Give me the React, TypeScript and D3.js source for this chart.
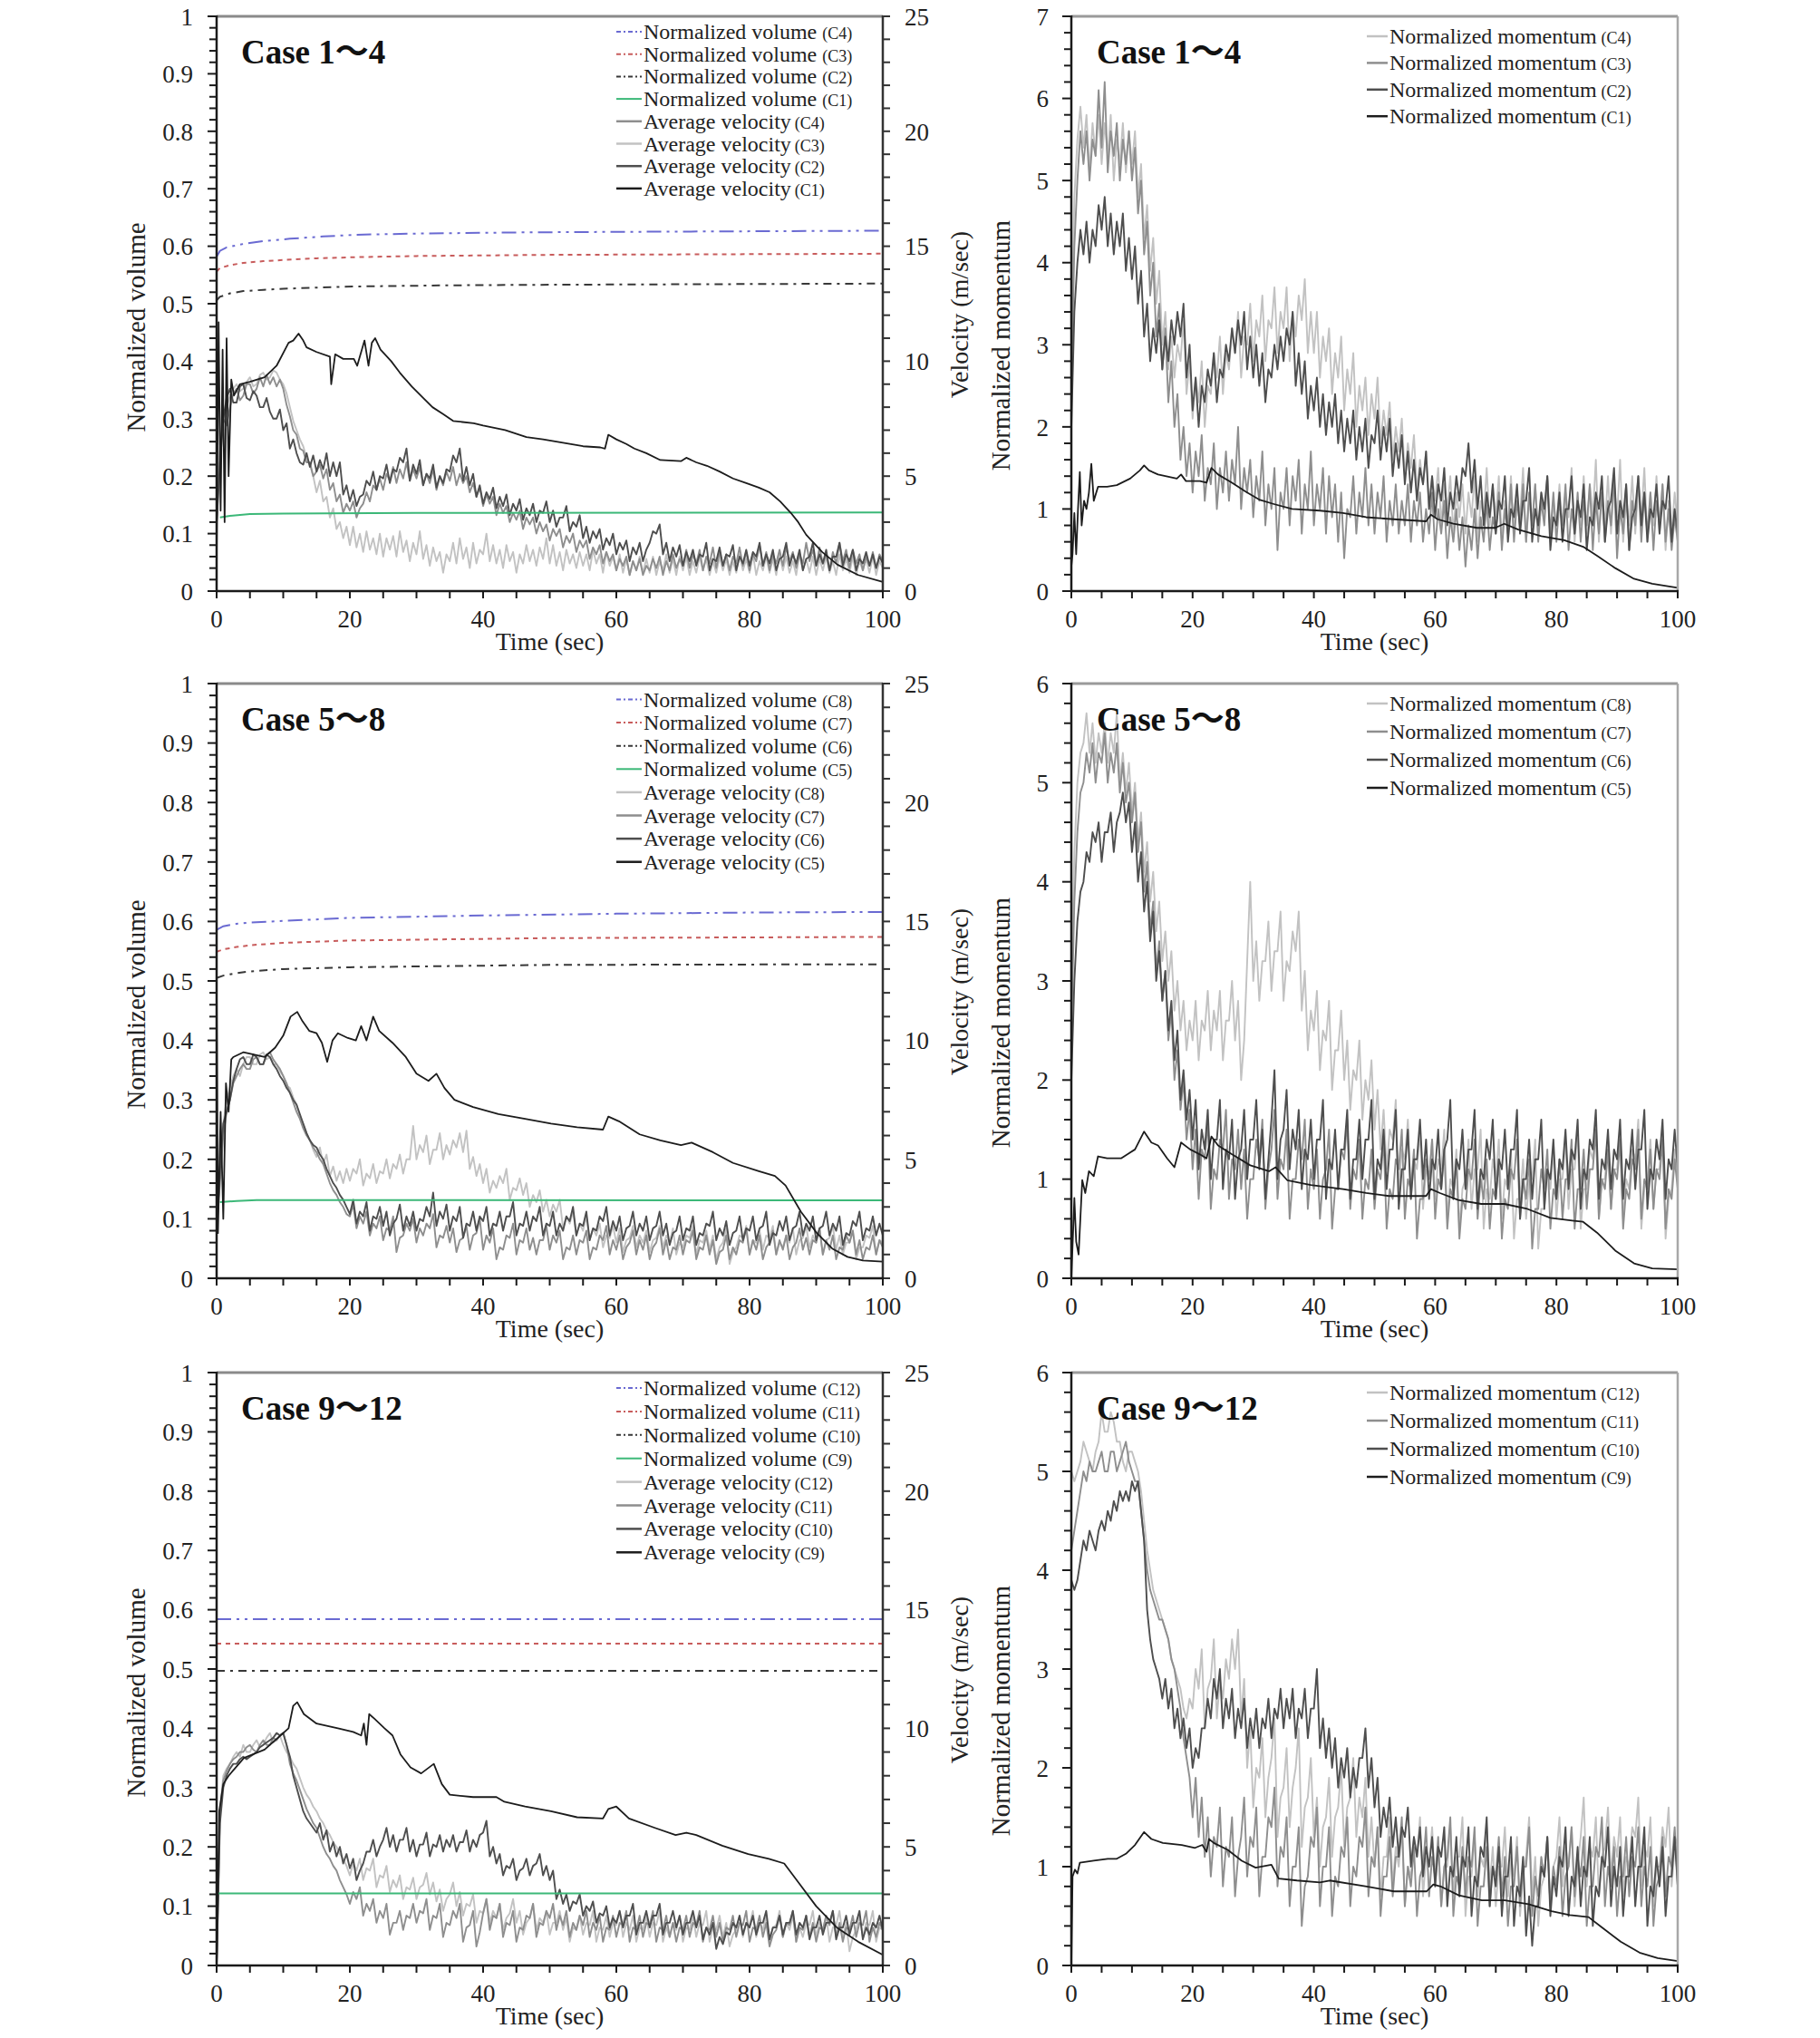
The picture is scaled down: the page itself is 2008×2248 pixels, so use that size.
import React from "react";
import * as d3 from "d3";

type Pt = [number, number];

// ---------- shared axes data ----------
const TIME = d3.range(201).map((i) => i / 2); // 0.5-s sampling grid of the noisy series
const X_TICKS = d3.range(0, 101, 5);
const X_LABELS = [0, 20, 40, 60, 80, 100];
const VOL_LABELS = ["0", "0.1", "0.2", "0.3", "0.4", "0.5", "0.6", "0.7", "0.8", "0.9", "1"];
const VEL_LABELS = [0, 5, 10, 15, 20, 25];

// ---------- Panel 1 : Case 1~4 (volume + velocity m/s) ----------
const P1_CASES = ["C4", "C3", "C2", "C1"];
const P1_VOL_C4: Pt[] = [[0,0.582],[0.5,0.592],[1.5,0.598],[4,0.604],[7,0.609],[11,0.613],[16,0.617],[21,0.62],[30,0.622],[45,0.624],[60,0.625],[80,0.626],[100,0.627]];
const P1_VOL_C3: Pt[] = [[0,0.556],[0.5,0.562],[2,0.567],[4,0.571],[7,0.574],[10,0.576],[15,0.579],[21,0.581],[30,0.583],[50,0.585],[75,0.586],[100,0.587]];
const P1_VOL_C2: Pt[] = [[0,0.506],[0.5,0.512],[2,0.518],[4,0.522],[7,0.524],[10,0.526],[15,0.528],[21,0.53],[35,0.532],[50,0.533],[75,0.534],[100,0.535]];
const P1_VOL_C1: Pt[] = [[0.5,0.128],[2,0.131],[5,0.134],[10,0.135],[30,0.136],[100,0.137]];
const P1_VEL_C4 = [
  3.0,6.0,7.5,7.2,8.0,8.6,8.8,8.3,8.5,9.0,
  9.0,8.6,8.8,9.3,8.9,9.4,9.0,9.3,8.9,9.2,
  8.8,8.1,7.6,7.0,6.8,6.2,6.1,5.6,5.6,5.0,
  5.2,5.5,4.9,5.3,4.4,4.7,3.9,4.2,3.4,3.8,
  3.5,3.9,3.2,3.6,3.8,4.3,3.9,4.6,4.4,4.9,
  4.4,5.1,4.8,5.4,4.7,5.3,4.9,5.6,4.8,5.3,
  4.9,5.4,4.6,5.1,4.7,5.3,4.4,5.0,4.6,5.2,
  4.8,5.4,4.6,5.1,4.7,5.0,4.3,4.7,4.1,4.5,
  3.7,4.2,3.8,4.1,3.3,3.8,3.4,3.7,3.0,3.4,
  3.1,3.5,2.7,3.2,2.9,3.2,2.5,3.0,2.6,2.9,
  2.2,2.7,2.4,2.7,1.9,2.4,2.1,2.5,1.7,2.2,
  1.9,2.2,1.4,1.9,1.6,2.0,1.2,1.7,1.3,1.6,
  0.9,1.4,1.1,1.5,0.7,1.3,0.9,1.4,0.7,1.1,
  0.9,1.4,1.0,1.5,0.7,1.3,0.9,1.6,1.0,1.4,
  1.1,1.8,1.0,1.6,1.2,1.8,0.9,1.5,1.2,1.9,
  1.0,1.7,1.1,1.6,0.9,1.5,1.2,1.9,1.1,1.7,
  0.9,1.6,1.3,2.0,1.1,1.7,0.9,1.6,1.2,1.8,
  1.1,1.9,1.3,1.7,1.0,1.6,1.2,2.1,1.3,1.8,
  1.1,1.9,1.2,1.6,0.9,1.7,1.2,2.1,1.3,1.8,
  1.0,1.8,1.2,1.6,0.9,1.5,1.1,1.7,1.0,1.6,
  1.3];
const P1_VEL_C3 = [
  3.0,6.2,7.5,8.0,8.5,8.8,9.0,8.7,8.8,9.1,
  9.3,8.9,9.0,9.4,9.5,9.2,9.3,9.6,9.5,9.2,
  9.0,8.6,8.0,7.4,7.0,6.6,6.3,5.8,5.5,5.0,
  4.3,4.8,3.9,4.1,3.2,3.6,2.7,3.0,2.3,2.8,
  2.0,2.8,1.9,2.5,1.7,2.6,1.8,2.3,1.6,2.5,
  1.5,2.3,1.8,2.4,1.5,2.6,1.7,2.2,1.3,2.1,
  1.6,2.6,1.4,2.0,1.1,1.9,1.3,1.7,0.8,1.6,
  1.3,2.1,1.2,2.3,1.4,1.9,1.0,2.1,1.2,1.8,
  1.6,2.5,1.3,2.0,1.2,1.8,1.0,2.0,1.3,1.7,
  0.8,1.6,1.2,2.0,1.3,1.8,1.1,1.9,1.4,2.3,
  1.2,2.0,1.1,1.7,0.9,1.8,1.2,1.6,1.0,1.7,
  1.1,1.6,0.9,1.8,1.2,1.6,0.8,1.7,1.1,1.5,
  0.9,1.6,0.8,1.4,0.7,1.3,0.9,1.5,0.8,1.4,
  0.8,1.5,0.7,1.3,0.9,1.6,0.8,1.4,0.7,1.5,
  0.9,1.5,0.7,1.3,0.8,1.5,0.9,1.4,0.7,1.3,
  0.8,1.5,0.9,1.4,0.7,1.3,0.8,1.6,0.9,1.4,
  0.8,1.6,0.7,1.3,0.9,1.5,0.8,1.4,0.7,1.6,
  0.9,1.5,0.8,1.3,0.7,1.6,0.9,1.4,0.8,1.5,
  0.7,1.4,0.9,1.5,0.8,1.3,0.7,1.6,0.9,1.4,
  0.8,1.5,0.7,1.3,0.9,1.4,0.8,1.5,0.7,1.3,
  1.0];
const P1_VEL_C2 = [
  3.0,5.5,7.5,8.4,8.8,8.2,8.2,8.9,9.0,8.4,
  8.3,8.7,8.5,8.0,8.0,8.4,7.8,7.5,7.5,7.9,
  7.0,7.3,6.2,6.6,6.0,5.6,5.5,6.0,5.4,5.9,
  5.2,5.7,5.3,6.0,5.0,5.6,5.0,5.6,4.2,4.6,
  3.9,4.4,3.7,4.1,4.2,4.8,4.6,5.2,4.4,5.0,
  4.9,5.5,4.7,5.3,5.2,5.8,5.6,6.2,4.8,5.5,
  5.1,5.7,4.6,5.1,4.9,5.5,4.5,5.0,4.7,5.3,
  5.2,5.9,5.6,6.2,4.8,5.4,4.6,5.1,4.1,4.6,
  3.8,4.3,4.0,4.5,3.6,4.1,3.7,4.2,3.3,3.8,
  3.5,4.0,3.1,3.6,3.3,3.8,3.0,3.5,3.4,3.9,
  3.0,3.5,2.8,3.2,3.2,3.7,2.6,3.0,2.8,3.3,
  2.3,2.8,2.1,2.6,2.3,2.7,1.8,2.3,2.0,2.5,
  1.6,2.1,1.8,2.2,1.3,1.9,1.6,2.1,1.3,1.8,
  2.1,2.6,2.5,2.9,1.6,2.1,1.3,1.9,1.5,2.0,
  1.1,1.7,1.3,1.8,1.1,1.6,1.5,2.1,0.9,1.4,
  1.3,1.9,1.1,1.6,1.5,2.0,0.9,1.5,1.2,1.8,
  1.1,1.7,1.5,2.1,1.1,1.6,1.2,1.8,0.9,1.4,
  1.5,2.1,1.1,1.6,1.2,1.8,0.9,1.4,1.5,2.1,
  1.1,1.6,1.2,1.8,0.9,1.5,1.5,2.1,1.1,1.6,
  1.3,1.8,0.9,1.4,1.2,1.7,1.1,1.6,1.0,1.5,
  1.2];
const P1_VEL_C1: Pt[] = [[0,1.5],[0.3,11.7],[0.6,3.5],[0.9,10.5],[1.2,3],[1.5,11],[1.8,5],[2.2,9.2],[2.6,8.5],[3.5,9],[5,9.1],[7.2,9.3],[9,9.8],[10.8,10.8],[11.5,10.9],[12.3,11.2],[13,10.9],[13.5,10.6],[15,10.4],[17,10.2],[17.2,9.0],[17.8,10.3],[19,10.1],[20.6,10.1],[21.1,9.8],[22.2,10.9],[22.8,9.8],[23.3,10.8],[23.8,11.0],[24.6,10.5],[26.2,10.0],[27.5,9.5],[29.3,8.9],[31,8.4],[32.4,8.0],[34,7.7],[35.5,7.4],[38.6,7.3],[40,7.2],[43.3,7.0],[46.5,6.7],[49,6.6],[52,6.45],[55,6.3],[57.6,6.25],[58.3,6.2],[58.8,6.8],[60,6.6],[61.5,6.4],[62.7,6.2],[64.5,6.0],[66.6,5.7],[69.7,5.65],[70.5,5.8],[72,5.6],[73.6,5.45],[75.5,5.2],[77.5,4.9],[79.5,4.7],[81.4,4.5],[83,4.3],[84.6,3.9],[86.2,3.4],[87.3,3.0],[88.5,2.45],[90.9,1.7],[93.2,1.15],[96.3,0.7],[100,0.4]];

// ---------- Panel 2 : Case 1~4 (momentum) ----------
const P2_MOM_C4 = [
  3.0,4.8,5.5,5.9,5.4,5.8,5.1,5.7,5.3,5.8,
  5.2,5.7,5.3,5.8,5.0,5.5,5.2,5.7,5.1,5.6,
  5.2,5.6,4.8,5.2,4.3,4.7,3.9,4.3,3.5,3.9,
  3.0,3.4,2.7,3.1,2.6,3.0,2.8,3.3,2.4,2.8,
  2.1,2.6,2.3,2.8,2.0,2.5,2.4,2.9,2.6,3.1,
  2.4,2.9,2.7,3.2,2.9,3.4,2.6,3.1,3.0,3.5,
  2.8,3.3,3.1,3.6,2.8,3.3,3.2,3.7,2.9,3.4,
  3.2,3.7,2.8,3.4,3.1,3.6,3.3,3.8,2.9,3.4,
  2.9,3.4,2.6,3.1,2.8,3.2,2.4,2.9,2.6,3.1,
  2.2,2.7,2.4,2.9,2.0,2.5,2.2,2.6,1.9,2.4,
  2.1,2.6,1.8,2.2,1.9,2.3,1.6,2.0,1.7,2.1,
  1.4,1.8,1.5,1.9,1.2,1.6,1.3,1.7,1.0,1.4,
  1.1,1.5,0.8,1.3,1.0,1.4,0.7,1.2,0.9,1.3,
  0.7,1.2,0.9,1.4,0.6,1.1,0.9,1.5,0.8,1.3,
  0.9,1.4,0.6,1.1,0.8,1.4,0.7,1.2,0.9,1.5,
  0.6,1.1,0.8,1.3,0.7,1.2,0.9,1.4,0.6,1.1,
  0.8,1.3,0.7,1.2,0.9,1.5,0.6,1.1,0.8,1.4,
  0.7,1.3,0.9,1.6,0.6,1.2,0.8,1.4,0.7,1.3,
  0.9,1.6,0.6,1.1,0.8,1.4,0.7,1.3,0.9,1.5,
  0.6,1.2,0.8,1.4,0.7,1.3,0.5,1.1,0.7,1.2,
  0.8];
const P2_MOM_C3 = [
  2.5,4.2,5.0,5.6,5.2,5.6,5.0,5.5,5.3,6.1,
  5.4,6.2,5.1,5.6,5.3,5.7,5.0,5.5,5.2,5.6,
  5.0,5.4,4.6,5.0,4.1,4.5,3.6,4.0,3.1,3.5,
  2.7,3.2,2.3,2.8,2.0,2.4,1.6,2.0,1.4,1.8,
  1.2,1.7,1.4,1.9,1.1,1.5,1.3,1.8,1.0,1.5,
  1.2,1.7,1.1,1.6,1.3,2.0,1.0,1.5,1.2,1.6,
  0.9,1.4,1.1,1.7,0.8,1.3,1.0,1.5,0.5,1.2,
  1.0,1.5,0.8,1.4,1.1,1.6,0.7,1.3,1.0,1.7,
  0.8,1.3,1.0,1.5,0.7,1.4,0.9,1.3,0.6,1.2,
  0.4,1.0,0.9,1.4,0.7,1.2,0.9,1.5,0.8,1.3,
  0.7,1.2,0.9,1.4,0.6,1.1,0.8,1.3,0.7,1.1,
  0.8,1.3,0.6,1.1,0.8,1.2,0.6,1.0,0.7,1.2,
  0.5,1.0,0.7,1.1,0.4,0.9,0.6,1.0,0.5,0.9,
  0.3,0.8,0.5,1.0,0.4,0.9,0.6,1.1,0.5,0.9,
  0.7,1.2,0.5,1.0,0.7,1.3,0.6,1.1,0.8,1.3,
  0.6,1.2,0.8,1.3,0.6,1.1,0.8,1.4,0.7,1.2,
  0.6,1.1,0.8,1.3,0.5,1.0,0.7,1.2,0.6,1.1,
  0.8,1.3,0.5,1.1,0.7,1.2,0.6,1.1,0.8,1.4,
  0.4,1.0,0.7,1.3,0.5,1.1,0.8,1.4,0.6,1.2,
  0.7,1.2,0.5,1.1,0.8,1.3,0.6,1.0,0.5,0.9,
  0.6];
const P2_MOM_C2 = [
  2.0,3.4,4.0,4.4,4.1,4.5,4.0,4.4,4.2,4.7,
  4.4,4.8,4.2,4.6,4.1,4.5,4.2,4.6,3.9,4.3,
  3.8,4.2,3.5,3.9,3.1,3.5,2.8,3.2,2.9,3.3,
  2.7,3.1,2.8,3.3,3.0,3.4,3.1,3.5,2.6,3.0,
  2.2,2.6,2.0,2.5,2.3,2.7,2.5,2.9,2.3,2.7,
  2.6,3.0,2.8,3.2,2.9,3.3,3.0,3.4,2.7,3.1,
  2.6,3.0,2.5,2.9,2.3,2.7,2.6,3.0,2.7,3.1,
  2.8,3.2,3.0,3.4,2.5,2.9,2.4,2.8,2.1,2.5,
  2.2,2.6,2.0,2.4,1.9,2.3,2.0,2.4,1.8,2.2,
  1.7,2.1,1.8,2.2,1.6,2.0,1.7,2.1,1.5,1.9,
  1.8,2.2,1.6,2.0,1.7,2.1,1.4,1.8,1.5,1.9,
  1.3,1.7,1.2,1.6,1.1,1.5,1.3,1.7,1.0,1.4,
  0.9,1.3,1.1,1.5,0.8,1.2,1.0,1.4,1.1,1.5,
  1.4,1.8,1.2,1.6,1.0,1.4,0.8,1.2,0.9,1.3,
  0.7,1.1,1.0,1.4,0.6,1.0,0.9,1.3,0.7,1.1,
  1.1,1.5,0.6,1.0,0.8,1.2,1.0,1.4,0.5,0.9,
  0.8,1.2,0.6,1.0,1.0,1.4,0.7,1.1,0.9,1.3,
  0.5,0.9,0.8,1.2,1.0,1.4,0.6,1.0,1.1,1.5,
  0.7,1.1,0.9,1.3,0.5,0.9,1.0,1.4,0.8,1.2,
  0.6,1.0,0.9,1.3,0.7,1.1,1.0,1.4,0.6,1.0,
  0.7];
const P2_MOM_C1: Pt[] = [[0,0.3],[0.2,0.45],[0.5,0.95],[0.8,0.45],[1.1,1.0],[1.4,1.45],[1.7,0.8],[2.1,1.1],[2.5,1.0],[2.9,1.2],[3.3,1.55],[3.7,1.1],[4.4,1.27],[5.9,1.27],[7.5,1.29],[9.7,1.37],[11.3,1.47],[12,1.53],[12.8,1.47],[14.3,1.42],[17.4,1.37],[18.1,1.42],[18.9,1.34],[21.2,1.34],[22.3,1.32],[23.1,1.5],[24.2,1.42],[26.5,1.32],[28.8,1.21],[31.1,1.11],[33.4,1.06],[36.4,1.0],[41,0.98],[44.8,0.95],[48.6,0.9],[53.2,0.875],[58.5,0.85],[59.3,0.93],[60.4,0.875],[63,0.82],[66.9,0.77],[69.9,0.77],[71.4,0.82],[73.7,0.75],[77.5,0.67],[81.3,0.62],[84.4,0.54],[86.7,0.43],[89.7,0.28],[92.8,0.15],[95.8,0.09],[100,0.04]];

// ---------- Panel 3 : Case 5~8 (volume + velocity m/s) ----------
const P3_CASES = ["C8", "C7", "C6", "C5"];
const P3_VOL_C8: Pt[] = [[0,0.586],[1,0.592],[3,0.596],[5,0.598],[10,0.601],[20,0.606],[30,0.608],[40,0.61],[60,0.613],[80,0.615],[100,0.616]];
const P3_VOL_C7: Pt[] = [[0,0.549],[1,0.553],[3,0.557],[5,0.56],[10,0.564],[20,0.568],[35,0.57],[50,0.572],[75,0.573],[100,0.574]];
const P3_VOL_C6: Pt[] = [[0,0.505],[1,0.509],[3,0.513],[5,0.516],[10,0.52],[20,0.523],[35,0.525],[50,0.527],[100,0.528]];
const P3_VOL_C5: Pt[] = [[0.5,0.128],[3,0.13],[6,0.1315],[100,0.131]];
const P3_VEL_C8 = [
  2.0,4.5,6.5,7.5,8.0,8.5,8.8,8.5,9.0,9.3,
  9.3,9.0,9.0,9.4,9.5,9.2,9.3,9.0,9.0,8.7,
  8.5,8.1,8.0,7.6,7.3,6.8,6.5,6.1,5.8,5.4,
  5.1,5.5,4.8,5.2,4.3,4.7,4.1,4.5,4.0,4.6,
  4.1,4.6,4.4,5.0,3.9,4.4,4.2,4.8,4.0,4.5,
  4.4,5.0,4.2,4.8,4.6,5.2,4.4,5.0,5.0,6.4,
  5.0,5.6,5.3,6.0,4.8,5.4,5.4,6.1,5.0,5.6,
  5.2,5.8,5.5,6.1,5.3,6.2,4.6,5.1,4.3,4.8,
  4.0,4.6,3.6,4.1,3.8,4.3,4.0,4.6,3.3,3.8,
  3.7,4.2,3.5,4.0,3.0,3.5,3.2,3.7,2.8,3.3,
  2.6,3.1,2.8,3.3,2.1,2.6,2.3,2.8,1.8,2.3,
  2.0,2.6,1.6,2.1,1.8,2.3,1.3,1.8,1.7,2.2,
  1.5,2.1,1.1,1.6,1.7,2.2,1.3,1.8,1.5,2.0,
  1.1,1.6,1.7,2.2,1.3,1.8,1.5,2.1,1.0,1.5,
  1.3,1.8,1.7,2.2,1.0,1.6,1.5,2.0,1.2,1.8,
  0.8,1.3,1.5,2.1,0.6,1.1,1.3,1.8,1.7,2.2,
  1.0,1.6,1.5,2.0,1.2,1.8,1.7,2.2,1.0,1.5,
  1.3,1.8,1.5,2.1,1.0,1.6,1.7,2.2,1.3,1.8,
  1.5,2.1,1.0,1.6,1.7,2.2,1.2,1.8,1.0,1.5,
  1.5,2.0,0.8,1.3,1.3,1.8,1.7,2.2,1.0,1.6,
  1.5];
const P3_VEL_C7 = [
  2.0,4.0,6.0,7.0,7.5,8.2,8.5,8.8,9.0,8.8,
  8.8,9.2,9.3,9.0,9.0,9.4,9.5,9.2,9.0,8.8,
  8.5,8.2,7.8,7.4,7.0,6.7,6.3,6.0,5.8,5.5,
  5.3,5.0,4.8,4.4,4.0,3.7,3.5,3.2,3.0,2.7,
  2.6,3.1,2.1,2.6,2.3,2.8,1.8,2.3,2.1,2.6,
  1.6,2.1,2.0,2.6,1.1,1.7,1.8,2.3,2.0,2.5,
  1.5,2.1,1.8,2.3,2.1,2.7,1.3,1.8,1.7,2.2,
  1.5,2.1,1.1,1.6,1.7,2.2,1.2,1.8,1.9,2.5,
  1.2,1.8,1.5,2.1,0.8,1.3,1.2,1.8,1.7,2.3,
  1.0,1.6,1.5,2.1,1.2,1.7,1.0,1.6,1.6,2.2,
  1.2,1.8,1.5,2.0,0.8,1.3,1.2,1.8,1.0,1.6,
  1.5,2.0,0.8,1.3,1.2,1.8,1.6,2.2,1.0,1.6,
  1.2,1.8,0.8,1.3,1.5,2.0,1.0,1.6,1.2,1.8,
  0.8,1.3,1.5,2.1,1.0,1.6,0.8,1.3,1.2,1.8,
  1.0,1.6,1.5,2.0,0.8,1.3,1.2,1.8,1.0,1.6,
  0.6,1.1,1.2,1.8,0.8,1.3,1.0,1.6,1.5,2.1,
  1.0,1.6,1.2,1.8,0.8,1.3,1.5,2.0,1.0,1.6,
  1.2,1.8,0.8,1.3,1.5,2.1,1.2,1.7,1.0,1.6,
  1.5,2.1,1.0,1.6,1.2,1.8,0.8,1.3,1.2,1.8,
  1.5,2.0,1.0,1.6,0.8,1.3,1.2,1.8,1.0,1.6,
  1.3];
const P3_VEL_C6 = [
  2.0,4.5,6.5,7.0,7.5,8.3,8.8,9.2,9.3,9.0,
  9.0,9.4,9.3,9.0,9.0,9.4,9.3,9.0,8.8,8.5,
  8.3,8.0,7.8,7.5,7.3,6.9,6.5,6.1,5.8,5.6,
  5.5,5.2,5.0,4.6,4.3,4.0,3.8,3.5,3.3,3.0,
  2.7,3.3,2.3,2.8,2.6,3.2,2.0,2.6,2.5,3.0,
  2.2,2.8,1.8,2.3,2.5,3.1,2.0,2.6,2.2,2.8,
  2.0,2.5,2.4,3.0,2.6,3.6,2.2,2.8,2.5,3.1,
  2.0,2.6,2.4,3.0,1.7,2.3,2.2,2.8,2.0,2.6,
  2.4,3.0,1.8,2.3,2.2,2.8,2.0,2.6,2.6,3.2,
  1.8,2.3,2.2,2.8,2.0,2.6,2.4,3.0,1.8,2.3,
  2.2,2.8,1.8,2.3,2.0,2.6,2.4,3.0,1.8,2.3,
  2.2,2.8,1.6,2.1,2.0,2.6,2.4,3.0,1.8,2.4,
  2.0,2.6,1.6,2.1,2.2,2.8,1.8,2.3,2.0,2.6,
  1.6,2.1,2.2,2.8,1.8,2.3,1.4,1.9,2.0,2.6,
  1.6,2.1,2.0,2.6,1.4,1.9,1.8,2.3,2.2,2.8,
  1.6,2.1,1.8,2.4,1.4,1.9,2.0,2.6,1.6,2.1,
  2.0,2.6,1.6,2.1,2.2,2.8,1.4,1.9,1.8,2.4,
  2.0,2.6,1.6,2.1,2.2,2.8,1.8,2.3,2.0,2.6,
  1.6,2.1,2.2,2.8,1.8,2.3,2.0,2.6,1.4,1.9,
  1.8,2.4,2.2,2.8,1.6,2.1,2.0,2.6,1.8,2.3,
  1.8];
const P3_VEL_C5: Pt[] = [[0,12.5],[0.2,1.9],[0.6,7.0],[1.0,2.5],[1.4,8.2],[1.8,7.0],[2.2,9.2],[2.5,9.3],[4,9.5],[7.2,9.3],[8.8,9.7],[10,10.2],[11.1,11.0],[12.1,11.2],[12.9,10.8],[13.9,10.4],[15,10.3],[15.8,9.9],[16.6,9.1],[17.4,10.0],[18.2,10.3],[19.7,10.1],[20.9,10.0],[21.7,10.6],[22.5,10.0],[23.5,11.0],[24.4,10.4],[26.4,9.9],[28.4,9.3],[30,8.6],[31.8,8.3],[33,8.6],[34.2,8.0],[35.7,7.5],[38.5,7.2],[42.3,6.9],[46.3,6.7],[50.2,6.5],[54.1,6.35],[58,6.25],[58.8,6.8],[60.4,6.6],[63.5,6.05],[66.6,5.8],[69.7,5.6],[71.3,5.7],[74.5,5.3],[77.5,4.85],[81.4,4.5],[83.8,4.3],[85.4,3.9],[87.7,2.8],[90.1,1.9],[92.4,1.25],[94.7,0.9],[97,0.75],[100,0.7]];

// ---------- Panel 4 : Case 5~8 (momentum) ----------
const P4_MOM_C8 = [
  3.0,4.3,5.0,5.3,5.4,5.7,5.3,5.6,5.2,5.5,
  5.3,5.6,5.2,5.5,5.3,5.7,5.0,5.3,4.9,5.2,
  4.7,5.0,4.4,4.7,4.1,4.4,3.8,4.1,3.5,3.8,
  3.2,3.5,3.0,3.3,2.7,3.0,2.5,2.8,2.3,2.6,
  2.4,2.8,2.2,2.6,2.5,2.9,2.3,2.7,2.5,2.9,
  2.2,2.6,2.6,3.0,2.4,2.8,2.0,2.4,3.2,4.0,
  3.0,3.4,2.8,3.2,3.2,3.6,2.9,3.3,3.3,3.7,
  2.8,3.2,3.1,3.5,3.3,3.7,2.7,3.1,2.3,2.7,
  2.5,2.9,2.1,2.5,2.4,2.8,1.9,2.3,2.3,2.7,
  2.0,2.4,1.7,2.1,2.0,2.4,1.6,2.0,1.8,2.2,
  1.5,1.9,1.3,1.7,1.1,1.5,1.4,1.8,0.9,1.3,
  1.2,1.6,0.8,1.2,1.1,1.5,0.7,1.1,1.0,1.4,
  0.8,1.2,1.1,1.5,0.6,1.0,0.9,1.3,0.5,0.9,
  1.0,1.4,0.7,1.1,1.1,1.5,0.5,0.9,0.8,1.2,
  1.0,1.4,0.6,1.0,0.9,1.3,0.4,0.8,0.8,1.2,
  0.6,1.0,1.0,1.4,0.3,0.7,0.7,1.1,0.9,1.3,
  0.6,1.0,1.0,1.4,0.7,1.1,1.1,1.5,0.5,0.9,
  0.9,1.3,1.2,1.6,0.6,1.0,1.0,1.4,0.7,1.1,
  1.1,1.5,0.6,1.0,0.9,1.3,1.2,1.6,0.5,0.9,
  1.0,1.4,0.7,1.1,1.1,1.5,0.4,0.8,0.9,1.3,
  1.0];
const P4_MOM_C7 = [
  2.5,3.8,4.5,4.9,5.0,5.3,5.1,5.4,5.0,5.3,
  5.2,5.5,5.0,5.3,5.1,5.4,4.9,5.2,4.8,5.0,
  4.6,4.9,4.3,4.6,3.9,4.2,3.5,3.8,3.1,3.4,
  2.8,3.1,2.4,2.7,2.0,2.3,1.7,2.0,1.4,1.7,
  1.1,1.5,0.8,1.3,1.2,1.6,0.7,1.1,1.0,1.4,
  1.3,1.7,0.8,1.2,1.1,1.5,0.9,1.3,0.6,1.0,
  1.0,1.4,1.2,1.6,0.7,1.1,1.3,1.7,0.8,1.2,
  1.1,1.5,0.6,1.0,1.0,1.4,1.2,1.6,0.7,1.1,
  0.9,1.3,0.6,1.0,1.1,1.5,0.5,0.9,0.9,1.3,
  1.2,1.6,0.7,1.1,1.0,1.4,0.6,1.0,0.9,1.3,
  0.7,1.1,1.0,1.4,0.5,0.9,0.8,1.2,1.1,1.5,
  0.6,1.0,0.9,1.3,0.4,0.8,0.8,1.2,1.0,1.4,
  0.6,1.0,0.9,1.3,0.5,0.9,0.8,1.2,0.4,0.8,
  0.7,1.1,1.0,1.4,0.6,1.0,0.8,1.2,0.5,0.9,
  0.8,1.2,0.4,0.8,0.7,1.1,1.0,1.4,0.6,1.0,
  0.8,1.2,0.3,0.7,0.7,1.1,0.9,1.3,0.5,0.9,
  0.8,1.2,0.6,1.0,1.0,1.4,0.5,0.9,0.9,1.3,
  0.7,1.1,1.1,1.5,0.6,1.0,0.9,1.3,0.7,1.1,
  1.0,1.4,0.5,0.9,0.8,1.2,1.1,1.5,0.6,1.0,
  0.9,1.3,0.7,1.1,1.0,1.4,0.5,0.9,0.8,1.2,
  0.9];
const P4_MOM_C6 = [
  2.0,3.0,3.6,3.9,4.0,4.3,4.2,4.5,4.4,4.6,
  4.2,4.5,4.5,4.7,4.3,4.6,4.7,4.9,4.6,4.8,
  4.3,4.6,4.0,4.3,3.7,4.0,3.4,3.7,3.0,3.3,
  2.8,3.1,2.5,2.8,2.2,2.5,1.8,2.1,1.6,1.9,
  1.4,1.8,1.1,1.5,1.3,1.7,1.0,1.4,1.4,1.8,
  0.9,1.3,1.2,1.6,0.8,1.2,1.3,1.7,1.0,1.4,
  1.4,1.8,1.1,1.5,0.8,1.2,1.6,2.1,1.0,1.4,
  1.5,1.9,1.1,1.5,1.3,1.7,0.9,1.3,1.2,1.6,
  1.0,1.4,1.4,1.8,0.8,1.2,1.1,1.5,0.9,1.3,
  1.3,1.7,0.8,1.2,1.2,1.6,1.0,1.4,1.4,1.8,
  0.8,1.2,1.1,1.5,0.9,1.3,1.3,1.7,0.7,1.1,
  1.1,1.5,0.8,1.2,1.2,1.6,1.0,1.4,0.8,1.2,
  1.1,1.5,0.9,1.3,1.4,1.8,0.8,1.2,1.1,1.5,
  0.9,1.3,1.3,1.7,0.7,1.1,1.0,1.4,1.2,1.6,
  0.8,1.2,1.1,1.5,0.9,1.3,1.3,1.7,0.6,1.0,
  1.0,1.4,0.8,1.2,1.2,1.6,0.7,1.1,1.0,1.4,
  0.8,1.2,1.1,1.5,0.9,1.3,1.2,1.6,0.7,1.1,
  1.0,1.4,1.3,1.7,0.8,1.2,1.1,1.5,0.9,1.3,
  1.2,1.6,0.8,1.2,1.1,1.5,0.9,1.3,1.3,1.7,
  0.7,1.1,1.0,1.4,1.2,1.6,0.8,1.2,1.1,1.5,
  1.1];
const P4_MOM_C5: Pt[] = [[0,0],[0.5,0.81],[0.8,0.37],[1.2,0.24],[1.8,0.99],[2.3,0.86],[2.9,1.08],[3.7,1.03],[4.4,1.23],[5.9,1.21],[8.2,1.21],[10.5,1.3],[12,1.48],[13.2,1.37],[14.3,1.34],[15.8,1.21],[17,1.12],[18.1,1.37],[19.6,1.3],[21.2,1.25],[22.3,1.21],[23.1,1.43],[24.2,1.34],[26.5,1.25],[29.5,1.14],[32.6,1.08],[33.7,1.12],[35.6,0.99],[39.5,0.94],[44.8,0.9],[48.6,0.86],[52.4,0.83],[58.5,0.83],[59.3,0.9],[60.8,0.86],[63.8,0.79],[67.6,0.75],[71.4,0.75],[75.2,0.7],[79,0.61],[82.9,0.58],[84.4,0.57],[86.7,0.46],[89.7,0.28],[92.8,0.15],[95.8,0.1],[100,0.09]];

// ---------- Panel 5 : Case 9~12 (volume + velocity m/s) ----------
const P5_CASES = ["C12", "C11", "C10", "C9"];
const P5_VOL_C12: Pt[] = [[0,0.584],[100,0.584]];
const P5_VOL_C11: Pt[] = [[0,0.543],[100,0.543]];
const P5_VOL_C10: Pt[] = [[0,0.497],[100,0.497]];
const P5_VOL_C9: Pt[] = [[0,0.1215],[100,0.1215]];
const P5_VEL_C12 = [
  0.0,6.5,8.0,8.3,8.5,8.8,9.0,8.8,9.3,9.0,
  9.0,9.3,9.5,9.2,9.3,9.6,9.8,9.4,9.5,9.7,
  9.3,9.0,8.8,8.5,8.3,7.9,7.5,7.2,7.0,6.7,
  6.5,6.2,6.0,5.7,5.5,5.2,5.0,4.7,4.5,4.2,
  3.8,4.3,4.0,4.5,3.6,4.1,4.0,4.5,3.3,3.8,
  3.7,4.2,3.1,3.6,3.3,3.8,2.8,3.3,3.2,3.7,
  2.8,3.3,3.4,3.9,3.0,3.5,2.7,3.2,2.3,2.8,
  3.0,3.5,2.5,3.1,2.1,2.6,2.5,3.0,1.8,2.3,
  2.2,2.8,1.8,2.3,2.0,2.6,1.5,2.0,2.2,2.8,
  1.8,2.3,1.3,1.8,2.0,2.6,1.5,2.0,1.8,2.3,
  1.3,1.8,1.8,2.3,1.5,2.0,1.0,1.6,1.5,2.1,
  1.3,1.8,1.7,2.3,1.0,1.6,1.5,2.1,1.2,1.8,
  1.7,2.3,1.2,1.8,1.5,2.1,1.0,1.6,1.5,2.1,
  1.2,1.8,1.7,2.3,1.0,1.6,1.2,1.8,1.5,2.1,
  1.0,1.6,1.5,2.1,1.2,1.8,1.7,2.3,1.0,1.6,
  1.5,2.1,1.2,1.8,0.8,1.3,1.5,2.1,1.2,1.8,
  1.7,2.3,1.2,1.8,1.5,2.1,1.0,1.6,1.7,2.3,
  1.2,1.8,1.5,2.1,1.0,1.6,1.2,1.8,1.7,2.3,
  1.2,1.8,1.5,2.1,1.0,1.6,1.7,2.3,1.2,1.8,
  0.6,1.2,1.5,2.1,1.2,1.8,1.7,2.3,1.0,1.6,
  1.5];
const P5_VEL_C11 = [
  0.0,6.5,7.8,8.2,8.5,8.7,8.8,9.0,9.0,9.2,
  9.3,9.1,9.0,9.3,9.5,9.3,9.3,9.6,9.5,9.7,
  9.8,9.3,8.5,8.1,7.8,7.4,7.0,6.6,6.3,6.0,
  5.8,5.4,5.0,4.7,4.5,4.2,4.0,3.6,3.3,3.0,
  2.6,3.1,2.8,3.3,2.1,2.6,2.3,2.8,1.8,2.3,
  2.0,2.6,1.3,1.8,1.8,2.3,1.5,2.1,2.0,2.6,
  1.8,2.3,2.2,2.8,1.5,2.1,2.0,2.6,1.2,1.8,
  1.7,2.3,2.0,2.6,1.0,1.6,1.7,2.3,0.8,1.4,
  2.2,2.8,1.5,2.1,2.0,2.6,1.2,1.8,1.7,2.3,
  1.0,1.6,1.5,2.1,2.0,2.6,1.2,1.8,1.7,2.3,
  2.0,2.6,1.5,2.1,1.7,2.3,1.2,1.8,1.5,2.1,
  1.7,2.3,1.2,1.8,1.5,2.1,1.0,1.6,1.5,2.1,
  1.2,1.8,1.7,2.3,1.0,1.6,1.5,2.1,1.2,1.8,
  1.7,2.3,1.0,1.6,1.5,2.1,1.2,1.8,1.0,1.6,
  1.5,2.1,1.2,1.8,1.7,2.3,1.0,1.6,1.5,2.1,
  1.2,1.8,1.0,1.6,1.5,2.1,1.2,1.8,1.7,2.3,
  1.0,1.6,1.5,2.1,1.2,1.8,0.8,1.3,1.5,2.1,
  1.2,1.8,1.7,2.3,1.0,1.6,1.5,2.1,1.2,1.8,
  1.0,1.6,1.5,2.1,1.7,2.3,1.2,1.8,1.0,1.6,
  1.5,2.1,1.2,1.8,1.7,2.3,1.0,1.6,1.2,1.8,
  1.5];
const P5_VEL_C10 = [
  0.0,6.0,7.5,8.0,8.3,8.5,8.5,8.7,8.8,8.7,
  8.8,8.9,9.0,9.2,9.3,9.4,9.5,9.6,9.8,9.7,
  9.8,9.3,8.8,8.0,7.5,7.0,6.5,6.2,6.0,5.8,
  5.6,6.0,5.3,5.7,4.8,5.2,4.6,5.0,4.3,4.7,
  4.1,4.5,3.6,4.0,4.3,4.8,4.8,5.3,4.6,5.0,
  5.3,5.8,5.0,5.5,4.8,5.3,5.3,5.8,4.8,5.3,
  4.6,5.1,5.1,5.6,4.6,5.1,5.0,5.5,4.8,5.3,
  5.0,5.5,4.8,5.2,5.2,5.7,4.8,5.3,5.0,5.5,
  5.6,6.1,4.6,5.0,4.3,4.7,3.8,4.2,4.1,4.5,
  3.6,4.0,4.1,4.5,3.8,4.2,4.3,4.7,3.8,4.2,
  3.6,4.0,2.8,3.2,2.6,3.0,2.3,2.7,2.6,3.0,
  2.1,2.5,2.3,2.7,1.8,2.2,2.1,2.5,1.6,2.0,
  1.8,2.3,1.6,2.1,2.1,2.6,1.3,1.8,1.8,2.3,
  1.6,2.1,2.1,2.6,1.3,1.8,1.8,2.3,1.6,2.1,
  1.3,1.8,1.8,2.3,1.6,2.1,1.1,1.6,1.3,1.8,
  0.7,1.2,0.9,1.4,1.3,1.8,1.6,2.1,1.3,1.8,
  1.6,2.1,1.3,1.8,1.8,2.3,1.1,1.6,1.6,2.1,
  1.3,1.8,1.8,2.3,1.3,1.8,1.6,2.1,1.1,1.6,
  1.6,2.1,1.3,1.8,1.8,2.3,1.1,1.6,1.6,2.1,
  1.3,1.8,1.8,2.3,1.1,1.6,1.3,1.8,1.6,2.1,
  1.5];
const P5_VEL_C9: Pt[] = [[0,0],[0.4,6.5],[1.0,7.65],[1.8,8.0],[4.1,8.75],[7.2,9.1],[9.6,9.7],[10.8,10.0],[11.5,10.95],[12.1,11.1],[13.1,10.6],[15,10.2],[18.2,10.0],[20.5,9.85],[21.7,9.7],[22.1,10.2],[22.5,9.3],[22.9,10.6],[23.7,10.4],[25.2,10.0],[26.4,9.7],[27.6,8.9],[29.1,8.35],[30.7,8.1],[32.6,8.5],[33.8,7.65],[35,7.2],[38.5,7.1],[42,7.1],[43.2,6.9],[46.3,6.7],[50.2,6.5],[54.1,6.25],[58,6.2],[58.8,6.6],[60,6.7],[61.9,6.2],[65.8,5.8],[68.9,5.5],[70.5,5.6],[72,5.5],[75.9,5.05],[79.8,4.7],[82.9,4.5],[85.2,4.3],[87.6,3.4],[90,2.5],[93.1,1.6],[96.3,1.0],[100,0.45]];

// ---------- Panel 6 : Case 9~12 (momentum) ----------
const P6_MOM_C12 = [
  5.0,4.9,5.0,5.1,5.3,5.2,5.1,5.0,5.2,5.3,
  5.6,5.4,5.4,5.6,5.5,5.3,5.3,5.1,5.0,5.2,
  5.2,5.1,5.0,4.8,4.5,4.2,4.0,3.8,3.7,3.6,
  3.5,3.4,3.3,3.1,3.0,2.9,2.8,2.6,2.5,2.7,
  2.6,3.0,2.8,3.2,2.4,2.8,2.9,3.3,2.5,2.9,
  2.7,3.1,2.9,3.3,3.0,3.4,2.5,2.9,2.0,2.4,
  1.6,2.0,1.9,2.3,1.5,1.9,2.1,2.5,1.3,1.7,
  1.8,2.2,1.4,1.8,2.0,2.4,1.2,1.6,1.7,2.1,
  1.3,1.7,1.0,1.4,1.5,1.9,1.1,1.5,1.6,2.0,
  1.2,1.6,1.7,2.1,1.3,1.7,1.5,1.9,1.1,1.5,
  1.0,1.4,0.7,1.1,1.1,1.5,0.8,1.2,1.0,1.4,
  0.6,1.0,0.9,1.3,1.1,1.5,0.7,1.1,1.0,1.4,
  0.8,1.2,0.6,1.0,1.0,1.4,0.7,1.1,1.1,1.5,
  0.5,0.9,0.9,1.3,0.7,1.1,1.0,1.4,0.8,1.2,
  0.6,1.0,1.0,1.4,0.7,1.1,0.9,1.3,0.5,0.9,
  1.1,1.5,0.7,1.1,0.4,0.8,0.9,1.3,0.6,1.0,
  1.1,1.5,0.8,1.2,1.0,1.4,0.6,1.0,1.3,1.7,
  0.8,1.2,1.1,1.5,0.7,1.1,1.2,1.6,0.9,1.3,
  1.1,1.5,0.7,1.1,1.0,1.4,1.3,1.7,0.8,1.2,
  1.1,1.5,0.6,1.0,1.0,1.4,1.2,1.6,0.8,1.2,
  1.3];
const P6_MOM_C11 = [
  4.2,4.4,4.6,4.8,5.0,4.9,5.1,5.0,5.0,5.1,
  5.2,5.0,5.0,5.2,5.2,5.0,5.1,5.2,5.3,5.1,
  5.0,4.9,4.9,4.6,4.3,4.0,3.8,3.7,3.6,3.5,
  3.5,3.4,3.3,3.1,3.0,2.8,2.6,2.3,2.1,1.9,
  1.5,1.9,1.3,1.7,1.1,1.5,0.9,1.3,1.2,1.6,
  0.8,1.2,1.1,1.5,0.7,1.1,1.3,1.7,0.9,1.3,
  1.2,1.6,0.7,1.1,1.1,1.5,1.4,1.8,0.8,1.2,
  1.1,1.5,0.6,1.0,1.0,1.4,0.4,0.8,0.9,1.3,
  1.2,1.6,0.6,1.0,1.0,1.4,0.5,0.9,0.8,1.2,
  1.1,1.5,0.6,1.0,0.9,1.3,1.2,1.6,0.7,1.1,
  1.0,1.4,0.5,0.9,0.9,1.3,0.7,1.1,1.1,1.5,
  0.6,1.0,0.8,1.2,0.5,0.9,1.0,1.4,0.7,1.1,
  0.9,1.3,0.6,1.0,1.1,1.5,0.5,0.9,0.8,1.2,
  0.7,1.1,1.0,1.4,0.4,0.8,0.8,1.2,0.6,1.0,
  0.9,1.3,0.7,1.1,0.4,0.8,0.8,1.2,0.6,1.0,
  1.0,1.4,0.5,0.9,0.7,1.1,0.9,1.3,0.6,1.0,
  0.8,1.2,0.5,0.9,1.0,1.4,0.7,1.1,0.9,1.3,
  0.4,0.8,0.8,1.2,1.1,1.5,0.6,1.0,0.8,1.2,
  0.5,0.9,0.9,1.3,0.7,1.1,1.0,1.4,0.6,1.0,
  0.8,1.2,0.4,0.8,0.9,1.3,0.7,1.1,1.0,1.4,
  0.8];
const P6_MOM_C10 = [
  3.9,3.8,3.9,4.1,4.3,4.2,4.4,4.3,4.2,4.4,
  4.5,4.4,4.6,4.5,4.7,4.6,4.8,4.7,4.8,4.7,
  4.9,4.8,4.9,4.6,4.3,3.6,3.3,3.1,3.0,2.9,
  2.7,2.9,2.6,2.8,2.4,2.6,2.3,2.5,2.2,2.4,
  2.0,2.2,2.1,2.4,2.4,2.7,2.5,2.9,2.7,3.0,
  2.4,2.7,2.5,2.8,2.3,2.6,2.4,2.7,2.2,2.5,
  2.3,2.6,2.2,2.5,2.4,2.7,2.3,2.6,2.5,2.8,
  2.4,2.7,2.5,2.8,2.3,2.6,2.5,2.8,2.3,2.6,
  2.6,3.0,2.2,2.5,2.1,2.4,2.0,2.3,1.8,2.1,
  1.9,2.2,1.7,2.0,1.8,2.1,2.1,2.4,1.8,2.1,
  1.6,1.9,1.3,1.6,1.4,1.7,1.2,1.5,1.1,1.4,
  1.3,1.6,1.0,1.3,1.1,1.4,0.9,1.2,1.0,1.3,
  0.8,1.2,1.1,1.4,0.6,1.0,0.9,1.3,0.7,1.1,
  1.0,1.4,0.5,0.9,0.8,1.2,1.1,1.5,0.6,1.0,
  0.8,1.2,0.5,0.9,0.9,1.3,0.4,0.8,0.7,1.1,
  0.3,0.7,0.2,0.6,0.6,1.0,0.9,1.3,0.5,0.9,
  0.7,1.1,1.0,1.4,0.5,0.9,0.8,1.2,0.6,1.0,
  0.9,1.3,0.4,0.8,0.7,1.1,1.0,1.4,0.6,1.0,
  0.8,1.2,0.5,0.9,0.9,1.3,0.6,1.0,1.0,1.4,
  0.4,0.8,0.7,1.1,0.8,1.2,0.5,0.9,0.9,1.3,
  0.8];
const P6_MOM_C9: Pt[] = [[0,0],[0.2,0.9],[0.6,0.97],[1,0.93],[1.4,1.04],[3.7,1.06],[6,1.08],[7.5,1.08],[9,1.13],[10.5,1.22],[12,1.35],[13.2,1.28],[15.1,1.24],[18.2,1.22],[20.4,1.19],[21.6,1.22],[22.3,1.15],[22.7,1.28],[23.5,1.24],[25.8,1.17],[28.1,1.06],[30.4,0.99],[33,1.02],[34.2,0.88],[37.2,0.86],[41,0.84],[42.6,0.86],[48.7,0.8],[53.2,0.75],[58.6,0.75],[59.7,0.82],[60.9,0.8],[63.9,0.71],[67.7,0.66],[71.5,0.66],[75.4,0.62],[79.2,0.55],[82.2,0.51],[85.3,0.49],[87.6,0.38],[90.6,0.24],[93.7,0.13],[96.7,0.075],[100,0.044]];

// ---------- styling ----------
const SERIF = "'Liberation Serif','Times New Roman',serif";
const TITLE_FONT = "'Liberation Serif','Noto Sans CJK JP',serif";
const AX = "#1a1a1a";
const LIGHT = "#c2c2c2", MEDIUM = "#8e8e8e", DARK = "#4e4e4e", BLACK = "#1c1c1c";
const VOL_STYLES = [
  { stroke: "#6a6ad2", dash: "16,6,3,6,3,6" },
  { stroke: "#c85c5c", dash: "5,5" },
  { stroke: "#383838", dash: "9,6,3,6" },
  { stroke: "#3cb878", dash: "" },
];

const onGrid = (vals: number[]): Pt[] =>
  vals.map((v, i) => [TIME[i], v] as Pt).filter((d) => d[0] !== undefined);

const X_L: [number, number] = [239, 974];
const X_R: [number, number] = [1182, 1851];

function BottomAxis({ x, y }: { x: d3.ScaleLinear<number, number>; y: number }) {
  return (
    <g>
      {X_TICKS.map((t) => (
        <line key={t} x1={x(t)} x2={x(t)} y1={y} y2={y + 8} stroke={AX} strokeWidth={2} />
      ))}
      <line x1={x(0) - 1} x2={x(100) + 1} y1={y} y2={y} stroke={AX} strokeWidth={2.5} />
      {X_LABELS.map((t) => (
        <text key={t} x={x(t)} y={y + 40} textAnchor="middle" fontSize={27} fontFamily={SERIF} fill="#222">{t}</text>
      ))}
      <text x={(x(0) + x(100)) / 2} y={y + 65} textAnchor="middle" fontSize={28} fontFamily={SERIF} fill="#222">Time (sec)</text>
    </g>
  );
}

function Noisy({ pts, x, y, color, w = 1.9 }: { pts: Pt[]; x: any; y: any; color: string; w?: number }) {
  const line = d3.line<Pt>().x((d) => x(d[0])).y((d) => y(d[1]));
  return <path d={line(pts) || ""} fill="none" stroke={color} strokeWidth={w} strokeLinejoin="round" />;
}

function VolumePanel(p: {
  top: number; bottom: number; title: string; cases: string[];
  volumes: Pt[][]; noisy: number[][]; noisyColors: string[]; smooth: Pt[];
  legendTop: number; legendStep: number;
}) {
  const x = d3.scaleLinear().domain([0, 100]).range(X_L);
  const y = d3.scaleLinear().domain([0, 1]).range([p.bottom, p.top]);
  const yr = d3.scaleLinear().domain([0, 25]).range([p.bottom, p.top]);
  const volMinor = d3.range(0, 51).map((i) => i / 50);
  const velMinor = d3.range(0, 26);
  const order = p.noisy.map((_, i) => i).sort((a, b) => d3.hsl(p.noisyColors[b]).l - d3.hsl(p.noisyColors[a]).l);
  const line = d3.line<Pt>().x((d) => x(d[0])).y((d) => y(d[1]));
  const velColors = [...p.noisyColors, BLACK];
  const midY = (p.top + p.bottom) / 2;
  return (
    <g>
      {order.map((i) => (
        <Noisy key={i} pts={onGrid(p.noisy[i])} x={x} y={yr} color={p.noisyColors[i]} />
      ))}
      {p.volumes.map((v, i) => (
        <path key={i} d={line(v) || ""} fill="none" stroke={VOL_STYLES[i].stroke} strokeWidth={2}
          strokeDasharray={VOL_STYLES[i].dash || undefined} />
      ))}
      <Noisy pts={p.smooth} x={x} y={yr} color={BLACK} w={1.8} />
      <line x1={X_L[0]} x2={X_L[1]} y1={p.top} y2={p.top} stroke="#8a8a8a" strokeWidth={3} />
      {volMinor.map((v, i) => (
        <line key={i} x1={X_L[0] - (i % 5 === 0 ? 10 : 8)} x2={X_L[0]} y1={y(v)} y2={y(v)} stroke={AX} strokeWidth={2} />
      ))}
      <line x1={X_L[0]} x2={X_L[0]} y1={p.top - 1} y2={p.bottom + 1} stroke={AX} strokeWidth={2.5} />
      {VOL_LABELS.map((s, i) => (
        <text key={s} x={213} y={y(i / 10)} dy="0.36em" textAnchor="end" fontSize={27} fontFamily={SERIF} fill="#222">{s}</text>
      ))}
      {velMinor.map((v) => (
        <line key={v} x1={X_L[1]} x2={X_L[1] + 8} y1={yr(v)} y2={yr(v)} stroke="#333" strokeWidth={2} />
      ))}
      <line x1={X_L[1]} x2={X_L[1]} y1={p.top - 1} y2={p.bottom + 1} stroke="#333" strokeWidth={2.5} />
      {VEL_LABELS.map((v) => (
        <text key={v} x={998} y={yr(v)} dy="0.36em" textAnchor="start" fontSize={27} fontFamily={SERIF} fill="#222">{v}</text>
      ))}
      <BottomAxis x={x} y={p.bottom} />
      <text transform={`translate(150,${midY + 26}) rotate(-90)`} textAnchor="middle" dy="0.35em" fontSize={29} fontFamily={SERIF} fill="#222">Normalized volume</text>
      <text transform={`translate(1058,${midY + 12}) rotate(-90)`} textAnchor="middle" dy="0.35em" fontSize={28} fontFamily={SERIF} fill="#222">Velocity (m/sec)</text>
      <text x={266} y={p.top + 52} fontSize={37} fontWeight="bold" fontFamily={TITLE_FONT} fill="#111">{p.title}</text>
      {p.cases.map((c, i) => {
        const ly = p.legendTop + i * p.legendStep;
        return (
          <g key={"v" + c}>
            <line x1={680} x2={708} y1={ly} y2={ly} stroke={VOL_STYLES[i].stroke} strokeWidth={2}
              strokeDasharray={VOL_STYLES[i].dash ? "5,3,2,3" : undefined} />
            <text x={710} y={ly + 8} fontSize={24} fontFamily={SERIF} fill="#222">Normalized volume<tspan fontSize={18} dx={6}>({c})</tspan></text>
          </g>
        );
      })}
      {p.cases.map((c, i) => {
        const ly = p.legendTop + (i + 4) * p.legendStep;
        return (
          <g key={"a" + c}>
            <line x1={680} x2={708} y1={ly} y2={ly} stroke={velColors[i]} strokeWidth={2.5} />
            <text x={710} y={ly + 8} fontSize={24} fontFamily={SERIF} fill="#222">Average velocity<tspan fontSize={18} dx={4}>({c})</tspan></text>
          </g>
        );
      })}
    </g>
  );
}

function MomentumPanel(p: {
  top: number; bottom: number; title: string; cases: string[]; yMax: number;
  noisy: number[][]; noisyColors: string[]; smooth: Pt[];
  legendTop: number; legendStep: number;
}) {
  const x = d3.scaleLinear().domain([0, 100]).range(X_R);
  const y = d3.scaleLinear().domain([0, p.yMax]).range([p.bottom, p.top]);
  const minor = d3.range(0, p.yMax * 5 + 1).map((i) => i / 5);
  const labels = d3.range(0, p.yMax + 1);
  const order = p.noisy.map((_, i) => i).sort((a, b) => d3.hsl(p.noisyColors[b]).l - d3.hsl(p.noisyColors[a]).l);
  const colors = [...p.noisyColors, BLACK];
  const midY = (p.top + p.bottom) / 2;
  return (
    <g>
      {order.map((i) => (
        <Noisy key={i} pts={onGrid(p.noisy[i])} x={x} y={y} color={p.noisyColors[i]} />
      ))}
      <Noisy pts={p.smooth} x={x} y={y} color={BLACK} w={1.8} />
      <line x1={X_R[0]} x2={X_R[1]} y1={p.top} y2={p.top} stroke="#9a9a9a" strokeWidth={3} />
      <line x1={X_R[1]} x2={X_R[1]} y1={p.top} y2={p.bottom} stroke="#a8a8a8" strokeWidth={2.5} />
      {minor.map((v, i) => (
        <line key={i} x1={X_R[0] - (i % 5 === 0 ? 10 : 8)} x2={X_R[0]} y1={y(v)} y2={y(v)} stroke={AX} strokeWidth={2} />
      ))}
      <line x1={X_R[0]} x2={X_R[0]} y1={p.top - 1} y2={p.bottom + 1} stroke={AX} strokeWidth={2.5} />
      {labels.map((v) => (
        <text key={v} x={1157} y={y(v)} dy="0.36em" textAnchor="end" fontSize={27} fontFamily={SERIF} fill="#222">{v}</text>
      ))}
      <BottomAxis x={x} y={p.bottom} />
      <text transform={`translate(1104,${midY + 46}) rotate(-90)`} textAnchor="middle" dy="0.35em" fontSize={29} fontFamily={SERIF} fill="#222">Normalized momentum</text>
      <text x={1210} y={p.top + 52} fontSize={37} fontWeight="bold" fontFamily={TITLE_FONT} fill="#111">{p.title}</text>
      {p.cases.map((c, i) => {
        const ly = p.legendTop + i * p.legendStep;
        return (
          <g key={c}>
            <line x1={1508} x2={1531} y1={ly} y2={ly} stroke={colors[i]} strokeWidth={2.5} />
            <text x={1533} y={ly + 8} fontSize={24} fontFamily={SERIF} fill="#222">Normalized momentum<tspan fontSize={18} dx={5}>({c})</tspan></text>
          </g>
        );
      })}
    </g>
  );
}

export default function App() {
  return (
    <svg width={2008} height={2248} style={{ position: "absolute", left: 0, top: 0, background: "#fff" }}>
      <rect width={2008} height={2248} fill="#fff" />
      <VolumePanel top={18} bottom={652} title="Case 1～4" cases={P1_CASES}
        volumes={[P1_VOL_C4, P1_VOL_C3, P1_VOL_C2, P1_VOL_C1]}
        noisy={[P1_VEL_C4, P1_VEL_C3, P1_VEL_C2]} noisyColors={[MEDIUM, LIGHT, DARK]}
        smooth={P1_VEL_C1} legendTop={35} legendStep={24.7} />
      <MomentumPanel top={18} bottom={652} title="Case 1～4" cases={P1_CASES} yMax={7}
        noisy={[P2_MOM_C4, P2_MOM_C3, P2_MOM_C2]} noisyColors={[LIGHT, MEDIUM, DARK]}
        smooth={P2_MOM_C1} legendTop={40} legendStep={29.4} />
      <VolumePanel top={754} bottom={1410} title="Case 5～8" cases={P3_CASES}
        volumes={[P3_VOL_C8, P3_VOL_C7, P3_VOL_C6, P3_VOL_C5]}
        noisy={[P3_VEL_C8, P3_VEL_C7, P3_VEL_C6]} noisyColors={[LIGHT, MEDIUM, DARK]}
        smooth={P3_VEL_C5} legendTop={771.5} legendStep={25.6} />
      <MomentumPanel top={754} bottom={1410} title="Case 5～8" cases={P3_CASES} yMax={6}
        noisy={[P4_MOM_C8, P4_MOM_C7, P4_MOM_C6]} noisyColors={[LIGHT, MEDIUM, DARK]}
        smooth={P4_MOM_C5} legendTop={776} legendStep={31} />
      <VolumePanel top={1514} bottom={2168} title="Case 9～12" cases={P5_CASES}
        volumes={[P5_VOL_C12, P5_VOL_C11, P5_VOL_C10, P5_VOL_C9]}
        noisy={[P5_VEL_C12, P5_VEL_C11, P5_VEL_C10]} noisyColors={[LIGHT, MEDIUM, DARK]}
        smooth={P5_VEL_C9} legendTop={1531} legendStep={25.9} />
      <MomentumPanel top={1514} bottom={2168} title="Case 9～12" cases={P5_CASES} yMax={6}
        noisy={[P6_MOM_C12, P6_MOM_C11, P6_MOM_C10]} noisyColors={[LIGHT, MEDIUM, DARK]}
        smooth={P6_MOM_C9} legendTop={1536} legendStep={31} />
    </svg>
  );
}
